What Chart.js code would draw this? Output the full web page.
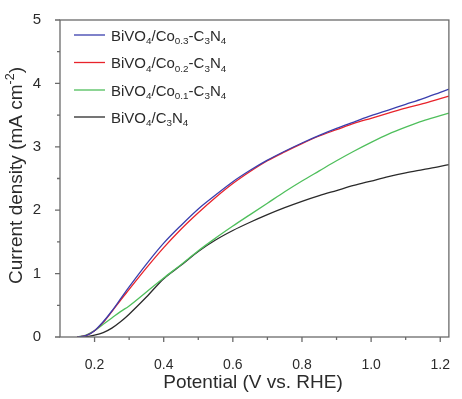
<!DOCTYPE html>
<html>
<head>
<meta charset="utf-8">
<script src="https://cdn.jsdelivr.net/npm/chart.js@4.4.0/dist/chart.umd.min.js"></script>
<style>
  html, body { margin: 0; padding: 0; background: #ffffff; }
  #wrap { width: 462px; height: 399px; }
</style>
</head>
<body>
<div id="wrap"><canvas id="c" width="462" height="399"></canvas></div>
<script>
// Potential (V vs. RHE)
const potential = [0.15, 0.175, 0.2, 0.225, 0.25, 0.275, 0.3, 0.35, 0.4, 0.45, 0.5, 0.55, 0.6,
  0.65, 0.7, 0.75, 0.8, 0.85, 0.9, 0.95, 1.0, 1.05, 1.1, 1.15, 1.2, 1.225];

// Current density (mA cm^-2) for each photoanode
const jCo03 = [0, 0.02, 0.10, 0.24, 0.41, 0.60, 0.79, 1.15, 1.48, 1.76, 2.02, 2.24, 2.45,
  2.63, 2.79, 2.93, 3.06, 3.18, 3.29, 3.39, 3.49, 3.58, 3.67, 3.76, 3.86, 3.91];
const jCo02 = [0, 0.02, 0.10, 0.23, 0.40, 0.58, 0.75, 1.09, 1.41, 1.70, 1.96, 2.20, 2.42,
  2.61, 2.78, 2.92, 3.05, 3.17, 3.27, 3.37, 3.45, 3.53, 3.61, 3.68, 3.76, 3.80];
const jCo01 = [0, 0.03, 0.10, 0.20, 0.30, 0.40, 0.49, 0.71, 0.93, 1.14, 1.36, 1.56, 1.75,
  1.93, 2.11, 2.29, 2.46, 2.62, 2.78, 2.93, 3.07, 3.20, 3.31, 3.41, 3.49, 3.53];
const jBare = [0, 0.005, 0.03, 0.07, 0.14, 0.24, 0.36, 0.63, 0.92, 1.13, 1.35, 1.53, 1.68,
  1.81, 1.93, 2.04, 2.14, 2.23, 2.31, 2.39, 2.46, 2.53, 2.59, 2.64, 2.69, 2.72];

// Labels: "_{..}" marks a subscript, "^{..}" a superscript
const seriesLabels = [
  'BiVO_{4}/Co_{0.3}-C_{3}N_{4}',
  'BiVO_{4}/Co_{0.2}-C_{3}N_{4}',
  'BiVO_{4}/Co_{0.1}-C_{3}N_{4}',
  'BiVO_{4}/C_{3}N_{4}'
];
const seriesColors = ['#3a3fae', '#e8232b', '#4fbf5c', '#2a2a2a'];
const seriesValues = [jCo03, jCo02, jCo01, jBare];

const xTicks = [0.2, 0.4, 0.6, 0.8, 1.0, 1.2];
const xMinorTicks = [0.3, 0.5, 0.7, 0.9, 1.1];
const yTicks = [0, 1, 2, 3, 4, 5];
const yMinorTicks = [0.5, 1.5, 2.5, 3.5, 4.5];

const xTitle = 'Potential (V vs. RHE)';
const yTitle = 'Current density (mA cm^{-2})';

const FONT = '"Liberation Sans", Arial, Helvetica, sans-serif';
const TEXT = '#2b2b2b';
const AXIS = '#6a6a6a';

function parseRich(s) {
  const out = [];
  let buf = '';
  let i = 0;
  while (i < s.length) {
    const c = s[i];
    if ((c === '_' || c === '^') && s[i + 1] === '{') {
      if (buf) { out.push({ t: buf, m: 0 }); buf = ''; }
      const end = s.indexOf('}', i);
      out.push({ t: s.slice(i + 2, end), m: c === '_' ? 1 : -1 });
      i = end + 1;
    } else {
      buf += c;
      i++;
    }
  }
  if (buf) out.push({ t: buf, m: 0 });
  return out;
}

function segFont(size, m) {
  return (m ? size * 0.66 : size).toFixed(1) + 'px ' + FONT;
}

function richWidth(ctx, segs, size) {
  let w = 0;
  for (const s of segs) { ctx.font = segFont(size, s.m); w += ctx.measureText(s.t).width; }
  return w;
}

function drawRich(ctx, segs, x, y, size) {
  ctx.textBaseline = 'alphabetic';
  ctx.textAlign = 'left';
  let cx = x;
  for (const s of segs) {
    ctx.font = segFont(size, s.m);
    const dy = s.m === 1 ? size * 0.26 : (s.m === -1 ? -size * 0.40 : 0);
    ctx.fillText(s.t, cx, y + dy);
    cx += ctx.measureText(s.t).width;
  }
}

const decorations = {
  id: 'decorations',
  afterDraw(chart) {
    const ctx = chart.ctx;
    const area = chart.chartArea;
    const xs = chart.scales.x;
    const ys = chart.scales.y;
    ctx.save();

    // frame
    ctx.strokeStyle = AXIS;
    ctx.lineWidth = 1.3;
    ctx.strokeRect(area.left, area.top, area.right - area.left, area.bottom - area.top);

    // outward ticks
    ctx.beginPath();
    xTicks.forEach(v => { const p = xs.getPixelForValue(v); ctx.moveTo(p, area.bottom); ctx.lineTo(p, area.bottom + 5); });
    xMinorTicks.forEach(v => { const p = xs.getPixelForValue(v); ctx.moveTo(p, area.bottom); ctx.lineTo(p, area.bottom + 3); });
    yTicks.forEach(v => { const p = ys.getPixelForValue(v); ctx.moveTo(area.left, p); ctx.lineTo(area.left - 5, p); });
    yMinorTicks.forEach(v => { const p = ys.getPixelForValue(v); ctx.moveTo(area.left, p); ctx.lineTo(area.left - 3, p); });
    ctx.stroke();

    // legend
    const rowY = [35, 62.5, 90, 117];
    chart.data.datasets.forEach((ds, i) => {
      const y = rowY[i];
      ctx.strokeStyle = ds.borderColor;
      ctx.lineWidth = 1.3;
      ctx.beginPath();
      ctx.moveTo(74, y);
      ctx.lineTo(105, y);
      ctx.stroke();
      ctx.fillStyle = TEXT;
      drawRich(ctx, parseRich(ds.label), 111, y + 5.5, 15);
    });

    // axis titles
    ctx.fillStyle = TEXT;
    ctx.font = '19px ' + FONT;
    ctx.textAlign = 'center';
    ctx.textBaseline = 'alphabetic';
    ctx.fillText(xTitle, 253, 388);

    const segs = parseRich(yTitle);
    const w = richWidth(ctx, segs, 19);
    ctx.translate(22, 175.5);
    ctx.rotate(-Math.PI / 2);
    drawRich(ctx, segs, -w / 2, 0, 19);

    ctx.restore();
  }
};

const datasets = seriesLabels.map((label, i) => ({
  label,
  data: potential.map((x, k) => ({ x, y: seriesValues[i][k] })),
  borderColor: seriesColors[i],
  backgroundColor: seriesColors[i],
  borderWidth: 1.3,
  pointRadius: 0,
  cubicInterpolationMode: 'monotone',
  fill: false
}));

new Chart(document.getElementById('c'), {
  type: 'line',
  data: { datasets },
  options: {
    responsive: false,
    animation: false,
    devicePixelRatio: 1,
    layout: { padding: { left: 0, right: 1, top: 13, bottom: 0 } },
    plugins: { legend: { display: false }, tooltip: { enabled: false } },
    scales: {
      x: {
        type: 'linear',
        min: 0.1,
        max: 1.225,
        grid: { display: false },
        border: { display: false },
        afterBuildTicks: s => { s.ticks = xTicks.map(v => ({ value: v })); },
        afterFit: s => { s.height = 62; },
        ticks: {
          padding: 12,
          color: TEXT,
          font: { family: FONT, size: 14 },
          maxRotation: 0,
          callback: v => v.toFixed(1)
        }
      },
      y: {
        type: 'linear',
        min: 0,
        max: 5,
        grid: { display: false },
        border: { display: false },
        afterBuildTicks: s => { s.ticks = yTicks.map(v => ({ value: v })); },
        afterFit: s => { s.width = 60; },
        ticks: {
          padding: 11,
          color: TEXT,
          font: { family: FONT, size: 15 },
          callback: v => String(v)
        }
      }
    }
  },
  plugins: [decorations]
});
</script>
</body>
</html>
